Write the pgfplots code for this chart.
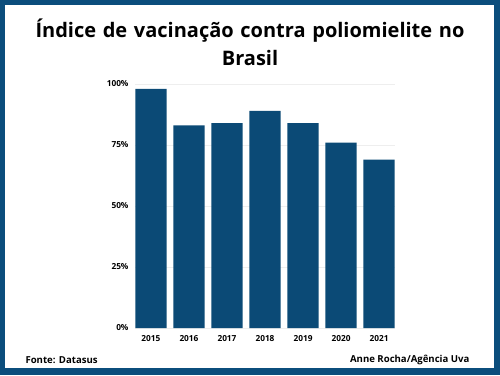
\documentclass[border=0pt]{standalone}
\usepackage{fontspec}
\setmainfont{Open Sans}
\usepackage{pgfplots}
\pgfplotsset{compat=1.18}
\definecolor{frame}{HTML}{0B4D7C}
\definecolor{barc}{HTML}{0B4A76}
\definecolor{gridc}{HTML}{EEEEEE}
\begin{document}
\begin{tikzpicture}[x=1pt,y=1pt]
\fill[frame] (0,0) rectangle (500,375);
\fill[white] (5,7) rectangle (494,370);
\node[font=\bfseries\fontsize{20}{28}\selectfont, align=center, text width=480pt] at (250,333) {Índice de vacinação contra poliomielite no\\Brasil};
\node[font=\bfseries\fontsize{9.6}{11}\selectfont, anchor=west] at (22,15) {Fonte: Datasus};
\node[font=\bfseries\fontsize{9.6}{11}\selectfont, anchor=east] at (473,15) {Anne Rocha/Agência Uva};
\begin{axis}[
  at={(135pt,47pt)}, anchor=south west,
  scale only axis, width=260pt, height=244pt,
  ymin=0, ymax=100, xmin=-0.42, xmax=6.42,
  axis line style={draw=none},
  tick style={draw=none},
  ytick={0,25,50,75,100},
  yticklabel={\pgfmathprintnumber{\tick}\%},
  ymajorgrids, xmajorgrids=false, grid style={draw=gridc, line width=0.8pt},
  xtick=data, xticklabels={2015,2016,2017,2018,2019,2020,2021},
  /pgf/number format/assume math mode=true,
  ticklabel style={font=\bfseries\fontsize{8.3}{9}\selectfont},
  yticklabel style={xshift=-3pt},
  xticklabel style={yshift=0pt},
  ybar, bar width=0.82,
  clip=false,
]
\addplot[fill=barc, draw=none] coordinates {(0,98) (1,83) (2,84) (3,89) (4,84) (5,76) (6,69)};
\end{axis}
\end{tikzpicture}
\end{document}
